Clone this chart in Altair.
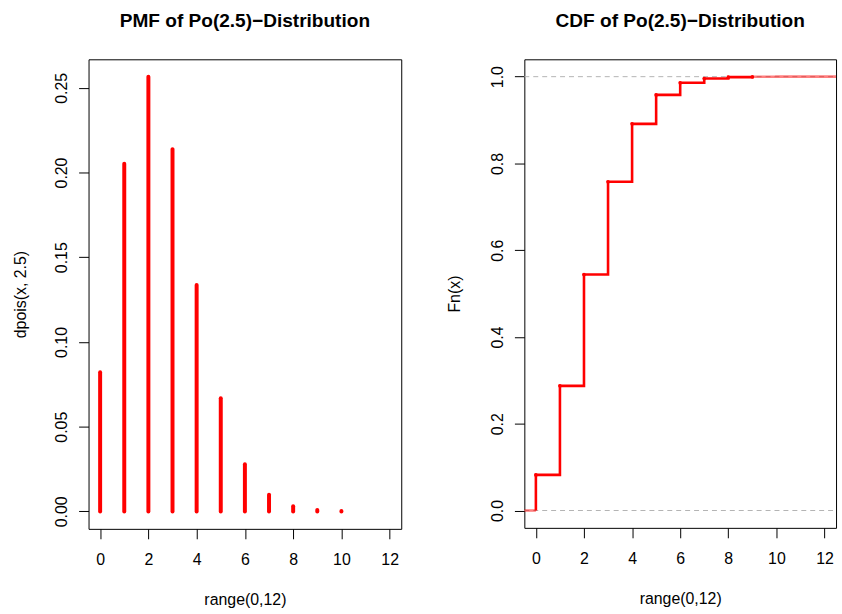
import altair as alt
import pandas as pd

FONT = "Liberation Sans"

# Poisson(2.5) probability mass at k = 0..10
pmf_k = [0, 1, 2, 3, 4, 5, 6, 7, 8, 9, 10]
pmf_p = [0.0821, 0.2052, 0.2565, 0.2138, 0.1336, 0.0668, 0.0278, 0.0099, 0.0031, 0.0009, 0.0002]

# cumulative probability at each jump k = 0..12
cdf_k = [0, 1, 2, 3, 4, 5, 6, 7, 8, 9, 10, 11, 12]
cdf_p = [0.0821, 0.2873, 0.5438, 0.7576, 0.8912, 0.9580, 0.9858, 0.9958, 0.9989,
         0.9997, 1.0000, 1.0000, 1.0000]

x_lim = [-0.48, 12.48]
pmf_lim = [-0.0103, 0.2668]
cdf_lim = [-0.04, 1.04]
x_ticks = [0, 2, 4, 6, 8, 10, 12]
pmf_ticks = [0.0, 0.05, 0.10, 0.15, 0.20, 0.25]
cdf_ticks = [0.0, 0.2, 0.4, 0.6, 0.8, 1.0]
ref_levels = [0.0, 1.0]

W_L, H_L = 315, 473
W_R, H_R = 314, 472

label_style = dict(labelFont=FONT, labelFontSize=16, labelColor="black",
                   titleFont=FONT, titleFontSize=16, titleFontWeight="normal",
                   titleColor="black", tickSize=10, tickWidth=1, tickColor="black",
                   domain=False, grid=False, labelOverlap=False, labelFlush=False)


def x_axis(width):
    return alt.Axis(values=x_ticks, format="d", title="range(0,12)",
                    labelBaseline="alphabetic", labelAlign="center", labelPadding=26,
                    titleBaseline="alphabetic", titleAlign="center",
                    titleX=width / 2, titleY=76, **label_style)


def y_axis(ticks, fmt, title, height, title_x):
    return alt.Axis(values=ticks, format=fmt, title=title,
                    labelAngle=-90, labelAlign="center", labelBaseline="alphabetic",
                    labelPadding=12, titleAngle=270, titleAlign="center",
                    titleBaseline="alphabetic", titleX=title_x, titleY=height / 2,
                    **label_style)


def panel_title(text):
    return alt.Title(text, font=FONT, fontSize=19.2, fontWeight="bold", color="black",
                     anchor="middle", frame="group", baseline="alphabetic", offset=13.5)


x_scale = alt.Scale(domain=x_lim, nice=False, zero=False)
pmf_scale = alt.Scale(domain=pmf_lim, nice=False, zero=False)
cdf_scale = alt.Scale(domain=cdf_lim, nice=False, zero=False)

# ---- PMF: vertical spikes ----
pmf_df = pd.DataFrame({"k": pmf_k, "p": pmf_p, "base": [0.0] * len(pmf_k)})
pmf_chart = alt.Chart(pmf_df).mark_rule(
    color="red", strokeWidth=4, strokeCap="round"
).encode(
    x=alt.X("k:Q", scale=x_scale, axis=x_axis(W_L)),
    y=alt.Y("base:Q", scale=pmf_scale,
            axis=y_axis(pmf_ticks, ".2f", "dpois(x, 2.5)", H_L, -64)),
    y2="p:Q",
).properties(width=W_L, height=H_L, title=panel_title("PMF of Po(2.5)\u2212Distribution"))

# ---- CDF: step function ----
cdf_x_axis = x_axis(W_R)
cdf_y_axis = y_axis(cdf_ticks, ".1f", "Fn(x)", H_R, -65.5)


def cdf_enc(yfield):
    return dict(x=alt.X("k:Q", scale=x_scale, axis=cdf_x_axis),
                y=alt.Y(yfield, type="quantitative", scale=cdf_scale, axis=cdf_y_axis))


ref_df = pd.DataFrame({"level": ref_levels})
ref_lines = alt.Chart(ref_df).mark_rule(
    color="#b3b3b3", strokeWidth=1, strokeDash=[5, 4]
).encode(
    y=alt.Y("level:Q", scale=cdf_scale, axis=cdf_y_axis),
    x=alt.value(0),
    x2=alt.value(W_R),
)

main_df = pd.DataFrame({"k": [0] + cdf_k[:10], "F": [0.0] + cdf_p[:10]})
main_step = alt.Chart(main_df).mark_line(
    color="red", strokeWidth=2.6, interpolate="step-after"
).encode(**cdf_enc("F"))

left_tail_df = pd.DataFrame({"k": [x_lim[0], cdf_k[0]], "F": [0.0, 0.0]})
right_tail_df = pd.DataFrame({"k": cdf_k[9:] + [x_lim[1]], "F": cdf_p[9:] + [cdf_p[-1]]})
left_tail = alt.Chart(left_tail_df).mark_line(
    color="red", strokeWidth=2.6, opacity=0.5, interpolate="step-after"
).encode(**cdf_enc("F"))
right_tail = alt.Chart(right_tail_df).mark_line(
    color="red", strokeWidth=2.6, opacity=0.5, interpolate="step-after"
).encode(**cdf_enc("F"))

pts_df = pd.DataFrame({"k": cdf_k[:10], "F": cdf_p[:10]})
jump_pts = alt.Chart(pts_df).mark_point(
    filled=True, color="red", size=14, opacity=1
).encode(**cdf_enc("F"))

cdf_chart = alt.layer(ref_lines, main_step, left_tail, right_tail, jump_pts).properties(
    width=W_R, height=H_R, title=panel_title("CDF of Po(2.5)\u2212Distribution")
)

chart = alt.hconcat(pmf_chart, cdf_chart, spacing=124, bounds="flush").configure(
    background="white", padding={"left": 11.2, "top": 8.5, "right": 0, "bottom": 0}
).configure_view(stroke="black", strokeWidth=1)

chart.save("out.html", embed_options={"renderer": "svg", "actions": False})
